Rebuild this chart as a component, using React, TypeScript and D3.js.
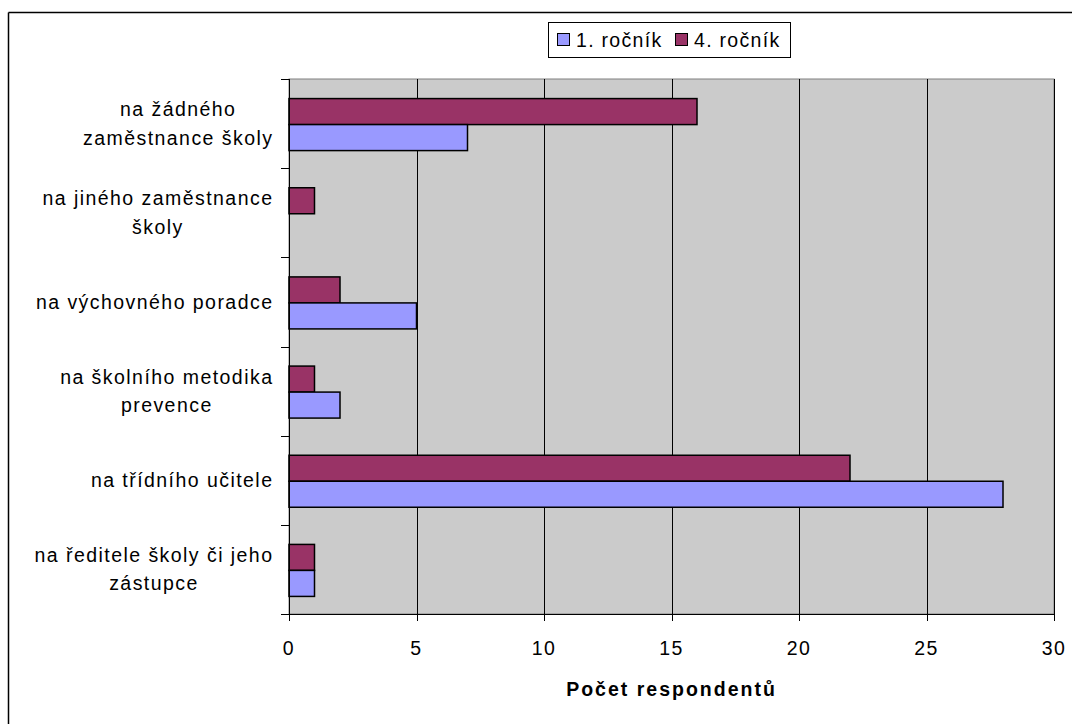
import React from "react";
import * as d3 from "d3";

const categories = [
  ["na žádného", "zaměstnance školy"],
  ["na jiného zaměstnance", "školy"],
  ["na výchovného poradce"],
  ["na školního metodika", "prevence"],
  ["na třídního učitele"],
  ["na ředitele školy či jeho", "zástupce"],
];
const seriesNames = ["1. ročník", "4. ročník"];
const firstYear = [7, 0, 5, 2, 28, 1];
const fourthYear = [16, 1, 2, 1, 22, 1];
const xTicks = [0, 5, 10, 15, 20, 25, 30];
const axisTitle = "Počet respondentů";

const COLORS = ["#9999ff", "#993366"];
const FONT = "'Liberation Sans', Arial, sans-serif";
const FS = 19.5;
const LS = 1.45;

const W = 1072;
const H = 724;
const plot = { left: 289, right: 1054, top: 79, bottom: 614 };

let ctx: CanvasRenderingContext2D | null = null;
function textWidth(s: string, size: number, spacing: number) {
  if (!ctx) ctx = document.createElement("canvas").getContext("2d");
  const n = Array.from(s).length;
  if (!ctx) return s.length * size * 0.5 + n * spacing;
  ctx.font = `${size}px 'Liberation Sans', Arial, sans-serif`;
  return ctx.measureText(s).width + (n - 1) * spacing;
}

export default function App() {
  const x = d3.scaleLinear().domain([0, 30]).range([plot.left, plot.right]);
  const y = d3
    .scaleBand<number>()
    .domain(d3.range(categories.length))
    .range([plot.top, plot.bottom]);
  const band = y.bandwidth();
  const barH = 26;
  const series = [fourthYear, firstYear]; // upper bar, lower bar within a band
  const seriesColor = [COLORS[1], COLORS[0]];

  return (
    <svg
      width={W}
      height={H}
      style={{ position: "absolute", left: 0, top: 0, fontFamily: FONT }}
    >
      <rect x={0} y={0} width={W} height={H} fill="#fff" />
      {/* outer chart frame */}
      <line x1={8.5} y1={12.5} x2={W} y2={12.5} stroke="#000" strokeWidth={1.5} />
      <line x1={8.5} y1={12.5} x2={8.5} y2={H} stroke="#000" strokeWidth={1.5} />

      {/* plot area */}
      <rect
        x={plot.left}
        y={plot.top}
        width={plot.right - plot.left}
        height={plot.bottom - plot.top}
        fill="#cbcbcb"
        stroke="#808080"
        strokeWidth={1}
      />
      {xTicks.slice(1).map((t) => (
        <line
          key={"g" + t}
          x1={Math.round(x(t)) + 0.5}
          x2={Math.round(x(t)) + 0.5}
          y1={plot.top}
          y2={plot.bottom}
          stroke="#000"
          strokeWidth={1}
        />
      ))}

      {/* bars */}
      {categories.map((_, i) => {
        const mid = (y(i) as number) + band / 2 + 1;
        return series.map((vals, s) => {
          const v = vals[i];
          if (v <= 0) return null;
          const yy = s === 0 ? mid - barH : mid;
          return (
            <rect
              key={`b${i}-${s}`}
              x={x(0)}
              y={yy}
              width={x(v) - x(0)}
              height={barH}
              fill={seriesColor[s]}
              stroke="#000"
              strokeWidth={1.5}
            />
          );
        });
      })}

      {/* y axis */}
      <line x1={plot.left + 0.5} x2={plot.left + 0.5} y1={plot.top} y2={plot.bottom} stroke="#000" />
      {d3.range(categories.length + 1).map((i) => {
        const yy = Math.round(plot.top + i * band) + 0.5;
        return <line key={"yt" + i} x1={281} x2={plot.left} y1={yy} y2={yy} stroke="#000" />;
      })}
      {categories.map((lines, i) => {
        const mid = (y(i) as number) + band / 2;
        const lh = 28.5;
        const maxW = Math.max(...lines.map((l) => textWidth(l, FS, LS)));
        const cx = 272 - maxW / 2;
        const y0 = mid - ((lines.length - 1) * lh) / 2;
        return lines.map((l, k) => (
          <text
            key={`c${i}-${k}`}
            x={cx + LS / 2}
            y={y0 + k * lh}
            dy="0.35em"
            textAnchor="middle"
            fontSize={FS}
            letterSpacing={LS}
            fill="#000"
          >
            {l}
          </text>
        ));
      })}

      {/* x axis */}
      <line x1={plot.left} x2={plot.right} y1={plot.bottom + 0.5} y2={plot.bottom + 0.5} stroke="#000" />
      {xTicks.map((t) => (
        <g key={"xt" + t}>
          <line
            x1={Math.round(x(t)) + 0.5}
            x2={Math.round(x(t)) + 0.5}
            y1={plot.bottom}
            y2={plot.bottom + 7}
            stroke="#000"
          />
          <text x={x(t)} y={648} dy="0.35em" textAnchor="middle" fontSize={FS} letterSpacing={LS}>
            {t}
          </text>
        </g>
      ))}
      <text
        x={(plot.left + plot.right) / 2}
        y={689}
        dy="0.35em"
        textAnchor="middle"
        fontSize={FS}
        fontWeight="bold"
        letterSpacing={2}
      >
        {axisTitle}
      </text>

      {/* legend */}
      <rect x={548.5} y={22.5} width={242} height={35} fill="#fff" stroke="#000" strokeWidth={1} />
      {seriesNames.map((name, i) => {
        const sx = i === 0 ? 557 : 675;
        return (
          <g key={"lg" + i}>
            <rect x={sx + 0.5} y={33.5} width={12} height={12} fill={COLORS[i]} stroke="#000" strokeWidth={1} />
            <text x={sx + 19} y={40} dy="0.35em" fontSize={FS} letterSpacing={1.3}>
              {name}
            </text>
          </g>
        );
      })}
    </svg>
  );
}
